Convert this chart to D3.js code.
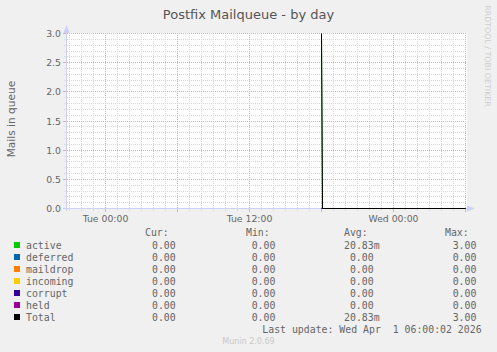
<!DOCTYPE html>
<html><head><meta charset="utf-8">
<script src="https://cdn.jsdelivr.net/npm/d3@7"></script>
<style>
html,body{margin:0;padding:0;background:#F0F0F0;}
svg{display:block;}
text{font-family:"DejaVu Sans",sans-serif;}
.mono{font-family:"DejaVu Sans Mono",monospace;}
</style></head>
<body>
<script>
// ---- data ----
const chartTitle = "Postfix Mailqueue - by day";
const yAxisLabel = "Mails in queue";
const seriesNames = ["active","deferred","maildrop","incoming","corrupt","held","Total"];
const seriesColors = ["#00CC00","#0066B3","#FF8000","#FFCC00","#330099","#990099","#000000"];
const sampleTimes = ["2026-03-31T18:00:00Z","2026-03-31T18:05:00Z","2026-04-01T06:00:00Z"];
const activeValues   = [3, 0, 0];
const deferredValues = [0, 0, 0];
const maildropValues = [0, 0, 0];
const incomingValues = [0, 0, 0];
const corruptValues  = [0, 0, 0];
const heldValues     = [0, 0, 0];
const totalValues    = [3, 0, 0];
const curValues = [0, 0, 0, 0, 0, 0, 0];
const minValues = [0, 0, 0, 0, 0, 0, 0];
const avgValues = [0.02083, 0, 0, 0, 0, 0, 0.02083];
const maxValues = [3, 0, 0, 0, 0, 0, 3];
const yTickValues = [0, 0.5, 1.0, 1.5, 2.0, 2.5, 3.0];
const yTickLabels = ["0.0","0.5","1.0","1.5","2.0","2.5","3.0"];
const xTickLabels = ["Tue 00:00","Tue 12:00","Wed 00:00"];
const timeStart = "2026-03-30T20:45:00Z";
const timeEnd   = "2026-04-01T06:05:00Z";
const lastUpdate = "Last update: Wed Apr  1 06:00:02 2026";
const versionText = "Munin 2.0.69";
const sideText = "RRDTOOL / TOBI OETIKER";

const allSeries = [activeValues, deferredValues, maildropValues, incomingValues, corruptValues, heldValues, totalValues];

// ---- layout ----
const W = 497, H = 352;
const svg = d3.select("body").append("svg").attr("width", W).attr("height", H);
svg.append("rect").attr("width", W).attr("height", H).attr("fill", "#F0F0F0");

const x = d3.scaleUtc().domain([new Date(timeStart), new Date(timeEnd)]).range([66.5, 466.5]);
const y = d3.scaleLinear().domain([0, 3]).range([208.5, 33.5]);
const px = v => Math.round(v - 0.5) + 0.5;

// canvas
svg.append("rect").attr("x", 67).attr("y", 33).attr("width", 400).attr("height", 176).attr("fill", "#FFFFFF");

const minorColor = "#d6d6d6", majorColor = "#eaa9a9";
const grid = svg.append("g");
// horizontal minor grid
d3.range(0, 31).map(i => i / 10).forEach(v => {
  if (Math.abs(v * 2 - Math.round(v * 2)) < 1e-6) return;
  grid.append("line").attr("x1", 67).attr("x2", 467).attr("y1", px(y(v))).attr("y2", px(y(v)))
    .attr("stroke", minorColor).attr("stroke-dasharray", "1,1");
  grid.append("line").attr("x1", 64).attr("x2", 66).attr("y1", px(y(v))).attr("y2", px(y(v)))
    .attr("stroke", "#e0e0e0");
});
// vertical minor grid
x.ticks(d3.utcHour.every(1)).forEach(t => {
  if (t.getUTCHours() % 6 === 0) return;
  const xx = px(x(t));
  grid.append("line").attr("x1", xx).attr("x2", xx).attr("y1", 33).attr("y2", 208)
    .attr("stroke", minorColor).attr("stroke-dasharray", "1,1");
  grid.append("line").attr("x1", xx).attr("x2", xx).attr("y1", 209).attr("y2", 211)
    .attr("stroke", "#e0e0e0");
});
// major horizontal
yTickValues.forEach(v => {
  if (v === 0) return;
  grid.append("line").attr("x1", 67).attr("x2", 467).attr("y1", px(y(v))).attr("y2", px(y(v)))
    .attr("stroke", majorColor).attr("stroke-dasharray", "1,1");
});
yTickValues.forEach(v => {
  grid.append("line").attr("x1", 63).attr("x2", 66).attr("y1", px(y(v))).attr("y2", px(y(v)))
    .attr("stroke", majorColor);
});
// major vertical
x.ticks(d3.utcHour.every(6)).forEach(t => {
  const xx = px(x(t));
  grid.append("line").attr("x1", xx).attr("x2", xx).attr("y1", 33).attr("y2", 208)
    .attr("stroke", majorColor).attr("stroke-dasharray", "1,1");
  grid.append("line").attr("x1", xx).attr("x2", xx).attr("y1", 209).attr("y2", 212)
    .attr("stroke", majorColor);
});

// axes
const axisColor = "#CCD2F6";
svg.append("line").attr("x1", 66.5).attr("x2", 66.5).attr("y1", 29).attr("y2", 211).attr("stroke", axisColor);
svg.append("line").attr("x1", 63).attr("x2", 470).attr("y1", 208.5).attr("y2", 208.5).attr("stroke", axisColor);
svg.append("path").attr("d", "M63.5,33 L66.5,25 L69.5,33 Z").attr("fill", axisColor);
svg.append("path").attr("d", "M467,205.5 L475,208.5 L467,211.5 Z").attr("fill", axisColor);

// y tick labels
const labelColor = "#666666";
yTickValues.forEach((v, i) => {
  svg.append("text").attr("x", 61).attr("y", px(y(v)) + 3.5).attr("text-anchor", "end")
    .attr("font-size", "9.3px").attr("fill", labelColor).text(yTickLabels[i]);
});
// x tick labels
x.ticks(d3.utcHour.every(12)).forEach((t, i) => {
  svg.append("text").attr("x", px(x(t))).attr("y", 221.5).attr("text-anchor", "middle")
    .attr("font-size", "9.3px").attr("fill", labelColor).text(xTickLabels[i] || d3.utcFormat("%a %H:%M")(t));
});

// data lines
const lineGen = d3.line().x(d => x(d[0])).y(d => y(d[1]));
allSeries.forEach((vals, si) => {
  const pts = sampleTimes.map((t, i) => [new Date(t), vals[i]]);
  svg.append("path").attr("d", lineGen(pts)).attr("fill", "none")
    .attr("stroke", seriesColors[si]).attr("stroke-width", 1);
});

// title
svg.append("text").attr("x", 248.5).attr("y", 18.5).attr("text-anchor", "middle")
  .attr("font-size", "13px").attr("fill", "#555555").text(chartTitle);
// y label
svg.append("text").attr("transform", "translate(14.5,119) rotate(-90)").attr("text-anchor", "middle")
  .attr("font-size", "10.6px").attr("fill", labelColor).text(yAxisLabel);
// side text
svg.append("text").attr("transform", "translate(485,56) rotate(90)").attr("text-anchor", "middle")
  .attr("font-size", "7.9px").attr("fill", "#cdcdcd").text(sideText);

// legend
const fs = "9.85px", cw = 5.93;
const header = [["Cur:", 145], ["Min:", 246], ["Avg:", 344], ["Max:", 445]];
header.forEach(h => {
  svg.append("text").attr("class", "mono").attr("x", h[1]).attr("y", 236)
    .attr("font-size", fs).attr("fill", labelColor).text(h[0]);
});
const fmt = v => (v !== 0 && Math.abs(v) < 1) ? (v * 1000).toFixed(2) + "m" : v.toFixed(2);
const colRight = [175.7, 275.4, 379.6, 476.4];
seriesNames.forEach((name, i) => {
  const yy = 248.5 + 12 * i;
  svg.append("rect").attr("x", 14).attr("y", yy - 6.5).attr("width", 6).attr("height", 6)
    .attr("fill", seriesColors[i]);
  svg.append("text").attr("class", "mono").attr("x", 26).attr("y", yy)
    .attr("font-size", fs).attr("fill", labelColor).text(name);
  [curValues[i], minValues[i], avgValues[i], maxValues[i]].forEach((v, c) => {
    const s = fmt(v);
    let right = colRight[c];
    if (c === 2 && !s.endsWith("m")) right -= cw;
    svg.append("text").attr("class", "mono").attr("x", right).attr("y", yy).attr("text-anchor", "end")
      .attr("font-size", fs).attr("fill", labelColor).text(s);
  });
});
svg.append("text").attr("class", "mono").attr("x", 262.3).attr("y", 332.5)
  .attr("font-size", fs).attr("fill", labelColor).style("white-space", "pre").text(lastUpdate);
svg.append("text").attr("x", 248.5).attr("y", 344).attr("text-anchor", "middle")
  .attr("font-size", "8px").attr("fill", "#c8c8c8").text(versionText);
</script>
</body></html>
